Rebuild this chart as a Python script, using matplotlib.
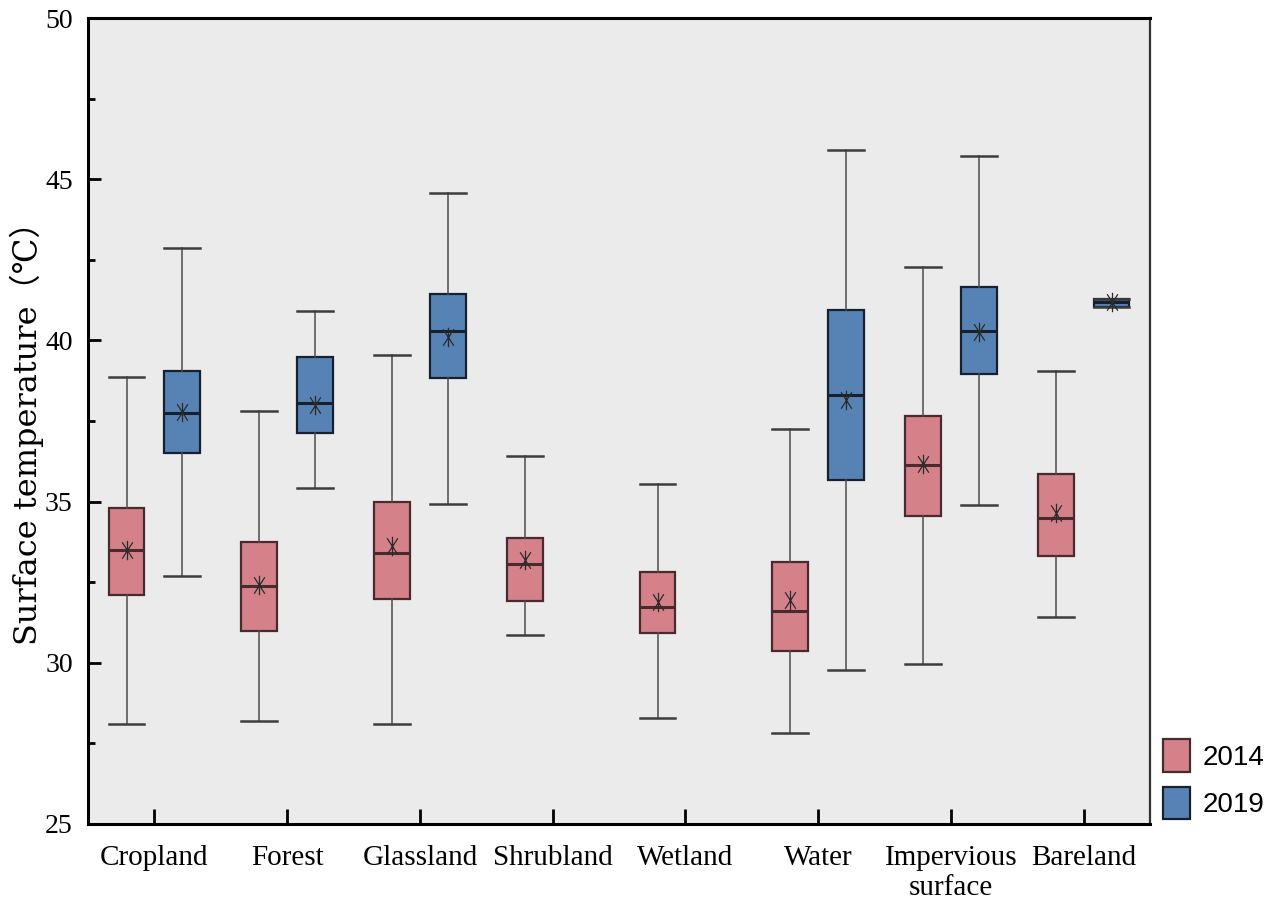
import numpy as np
import matplotlib.pyplot as plt
from matplotlib.patches import Patch
from matplotlib.path import Path
from matplotlib.ticker import MultipleLocator

plt.rcParams['font.family'] = ['Liberation Serif', 'DejaVu Serif']

categories = ["Cropland", "Forest", "Glassland", "Shrubland", "Wetland",
              "Water", "Impervious\nsurface", "Bareland"]

# 2014 box statistics, surface temperature in deg C
lo_2014 = [28.09, 28.19, 28.11, 30.85, 28.30, 27.81, 29.95, 31.42]
q1_2014 = [32.10, 31.00, 31.98, 31.91, 30.92, 30.36, 34.56, 33.31]
med_2014 = [33.49, 32.38, 33.41, 33.07, 31.72, 31.61, 36.14, 34.50]
q3_2014 = [34.81, 33.74, 34.99, 33.88, 32.81, 33.13, 37.65, 35.85]
hi_2014 = [38.87, 37.81, 39.55, 36.40, 35.54, 37.24, 42.27, 39.04]
mean_2014 = [33.50, 32.42, 33.62, 33.19, 31.88, 31.94, 36.16, 34.64]

# 2019 (no shrubland / wetland pixels)
lo_2019 = [32.69, 35.43, 34.92, None, None, 29.79, 34.88, 41.05]
q1_2019 = [36.50, 37.12, 38.83, None, None, 35.68, 38.96, 41.05]
med_2019 = [37.76, 38.05, 40.30, None, None, 38.32, 40.30, 41.18]
q3_2019 = [39.05, 39.49, 41.45, None, None, 40.93, 41.67, 41.28]
hi_2019 = [42.86, 40.92, 44.56, None, None, 45.90, 45.72, 41.28]
mean_2019 = [37.78, 38.00, 40.11, None, None, 38.15, 40.27, 41.18]

years = ["2014", "2019"]
face = {"2014": "#d4818a", "2019": "#5683b4"}
edge = {"2014": "#4a2b2d", "2019": "#17202e"}
offset = {"2014": -0.21, "2019": 0.21}

# mean marker: vertical stroke crossed by a narrow X
star = Path([(0, -1), (0, 1), (-0.55, -0.85), (0.55, 0.85),
             (-0.55, 0.85), (0.55, -0.85)],
            [Path.MOVETO, Path.LINETO] * 3)


def make_stats(lo, q1, med, q3, hi, mean):
    st, pos = [], []
    for i, v in enumerate(zip(lo, q1, med, q3, hi, mean)):
        if v[0] is None:
            continue
        st.append(dict(whislo=v[0], q1=v[1], med=v[2], q3=v[3],
                       whishi=v[4], mean=v[5], fliers=[]))
        pos.append(i)
    return st, np.array(pos, dtype=float)


data = {
    "2014": make_stats(lo_2014, q1_2014, med_2014, q3_2014, hi_2014, mean_2014),
    "2019": make_stats(lo_2019, q1_2019, med_2019, q3_2019, hi_2019, mean_2019),
}

fig = plt.figure(figsize=(12.72, 9.15), dpi=100)
ax = fig.add_axes([0.0692, 0.0995, 0.9041 - 0.0692, 0.9803 - 0.0995])
ax.set_facecolor("#ebebeb")

for yr in years:
    st, pos = data[yr]
    ax.bxp(st, positions=pos + offset[yr], widths=0.27, capwidths=0.27,
           patch_artist=True, showmeans=True, showfliers=False,
           boxprops=dict(facecolor=face[yr], edgecolor=edge[yr], linewidth=1.6),
           medianprops=dict(color=edge[yr], linewidth=2.2),
           whiskerprops=dict(color="#4d4d4d", linewidth=1.1),
           capprops=dict(color="#3d3d3d", linewidth=1.8),
           meanprops=dict(marker=star, markersize=14, fillstyle='none',
                          markeredgecolor="#2b2b2b", markeredgewidth=0.9))

ax.set_xlim(-0.5, 7.5)
ax.set_ylim(25, 50)
ax.set_xticks(range(len(categories)))
ax.set_xticklabels(categories, fontsize=21, linespacing=1.2)
ax.yaxis.set_major_locator(MultipleLocator(5))
ax.yaxis.set_minor_locator(MultipleLocator(2.5))
ax.tick_params(axis='y', which='major', direction='in', length=9, width=2,
               labelsize=20, pad=11)
ax.tick_params(axis='y', which='minor', direction='in', length=5, width=2)
ax.tick_params(axis='x', which='major', direction='in', length=11, width=2,
               labelsize=21, pad=15)

for side in ["left", "top", "bottom"]:
    ax.spines[side].set_linewidth(2.2)
ax.spines["right"].set_linewidth(1.6)
ax.spines["right"].set_color("#333333")

ax.set_ylabel("Surface temperature（℃）", fontsize=23,
              family=['DejaVu Serif', 'Noto Sans CJK SC', 'DejaVu Sans'])
ax.yaxis.set_label_coords(-0.041, 0.495)

handles = [Patch(facecolor=face[yr], edgecolor=edge[yr], linewidth=1.6, label=yr)
           for yr in years]
fig.legend(handles=handles, loc='lower left', bbox_to_anchor=(0.9143, 0.105),
           frameon=False, borderpad=0, borderaxespad=0,
           prop={'family': ['Liberation Sans'], 'size': 20},
           handlelength=0.97, handleheight=1.4, handletextpad=0.45,
           labelspacing=0.55)

fig.savefig("out.png", dpi=100)
